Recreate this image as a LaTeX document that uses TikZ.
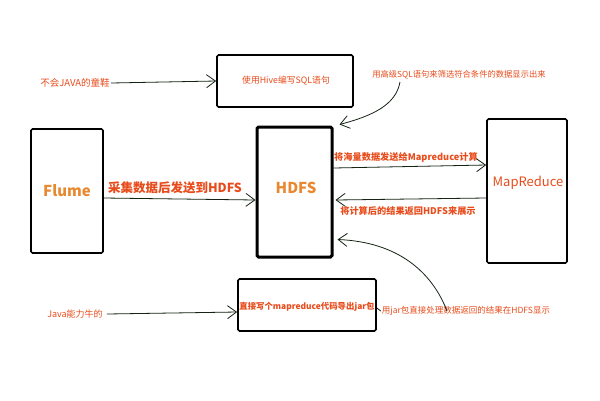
\documentclass[tikz,border=0pt]{standalone}
\usepackage{fontspec}
\setmainfont{Noto Sans CJK SC}
\usetikzlibrary{arrows.meta}
\definecolor{lblred}{RGB}{232,76,28}
\definecolor{lblorange}{RGB}{232,137,48}
\definecolor{inkline}{RGB}{20,35,20}
\tikzset{
  box/.style={draw=black,line width=1.7pt,rounded corners=1.5pt,inner sep=0pt},
  lbl/.style={text=lblred,inner sep=1pt,font=\fontsize{8.5}{10}\selectfont},
  big/.style={inner sep=0pt,font=\fontsize{15}{17}\selectfont\bfseries},
  arr/.style={draw=inkline,line width=0.8pt,-{Straight Barb[length=9pt,width=13pt]}},
  plain/.style={draw=inkline,line width=0.8pt}
}
\begin{document}
\begin{tikzpicture}[x=1pt,y=-1pt]
\useasboundingbox[fill=white] (0,0) rectangle (600,400);
% boxes
\node[box,minimum width=136pt,minimum height=52pt] (hive) at (285,81) {};
\node[box,minimum width=72pt,minimum height=124pt] (flume) at (67,191) {};
\node[box,line width=3pt,minimum width=75pt,minimum height=130pt] (hdfs) at (294.5,192) {};
\node[box,minimum width=80pt,minimum height=144pt] (mr) at (527,191) {};
\node[box,minimum width=138pt,minimum height=52pt] (jar) at (307,305) {};
% box texts
\node[lbl,font=\fontsize{8.8}{10}\selectfont] (hivet) at (286,81) {使用Hive编写SQL语句};
\node[big,text=lblorange] (flumet) at (67,191) {Flume};
\node[big,text=lblorange] (hdfst) at (296,188) {HDFS};
\node[big,text=lblred,font=\fontsize{13}{15}\selectfont] (mrt) at (528,183) {MapReduce};
\node[lbl,font=\fontsize{8.4}{10}\selectfont\bfseries] (jart) at (307,307) {直接写个mapreduce代码导出jar包};
% labels
\node[lbl,font=\fontsize{9.5}{11}\selectfont] (t1) at (75,83) {不会JAVA的童鞋};
\node[lbl,font=\fontsize{8.3}{10}\selectfont] (t2) at (459,75) {用高级SQL语句来筛选符合条件的数据显示出来};
\node[lbl,font=\fontsize{12.5}{14}\selectfont\bfseries] (t3) at (175,188) {采集数据后发送到HDFS};
\node[lbl,font=\fontsize{9.2}{11}\selectfont\bfseries] (t4) at (406,157) {将海量数据发送给Mapreduce计算};
\node[lbl,font=\fontsize{9.2}{11}\selectfont\bfseries] (t5) at (408,211) {将计算后的结果返回HDFS来展示};
\node[lbl,font=\fontsize{9}{10}\selectfont] (t6) at (75,314) {Java能力牛的};
\node[lbl,font=\fontsize{8.5}{10}\selectfont] (t7) at (466,311) {用jar包直接处理数据返回的结果在HDFS显示};
% connectors
\draw[arr] (t1.east) -- (hive.west);
\draw[arr] ([yshift=-7pt]flume.east) -- ([yshift=-8pt]hdfs.west);
\draw[arr] ([yshift=24pt]hdfs.east) -- ([yshift=26pt]mr.east -| mr.west);
\draw[arr] ([yshift=-7pt]mr.west) -- ([yshift=-8pt,xshift=2pt]hdfs.east);
\coordinate (c2) at (400,82);
\draw[arr] (c2) .. controls (396,105) and (372,116) .. ([xshift=6pt,yshift=1pt]hdfs.north east);
\draw[arr] ([xshift=3pt]t6.east) -- ([yshift=-7pt]jar.west);
\draw[plain] ([yshift=-3pt]jar.east) -- ([yshift=0pt]t7.west);
\coordinate (c7) at (447,311);
\draw[arr] (c7) .. controls (432,272) and (398,242) .. ([xshift=4pt,yshift=19pt]hdfs.south east);
\end{tikzpicture}
\end{document}
